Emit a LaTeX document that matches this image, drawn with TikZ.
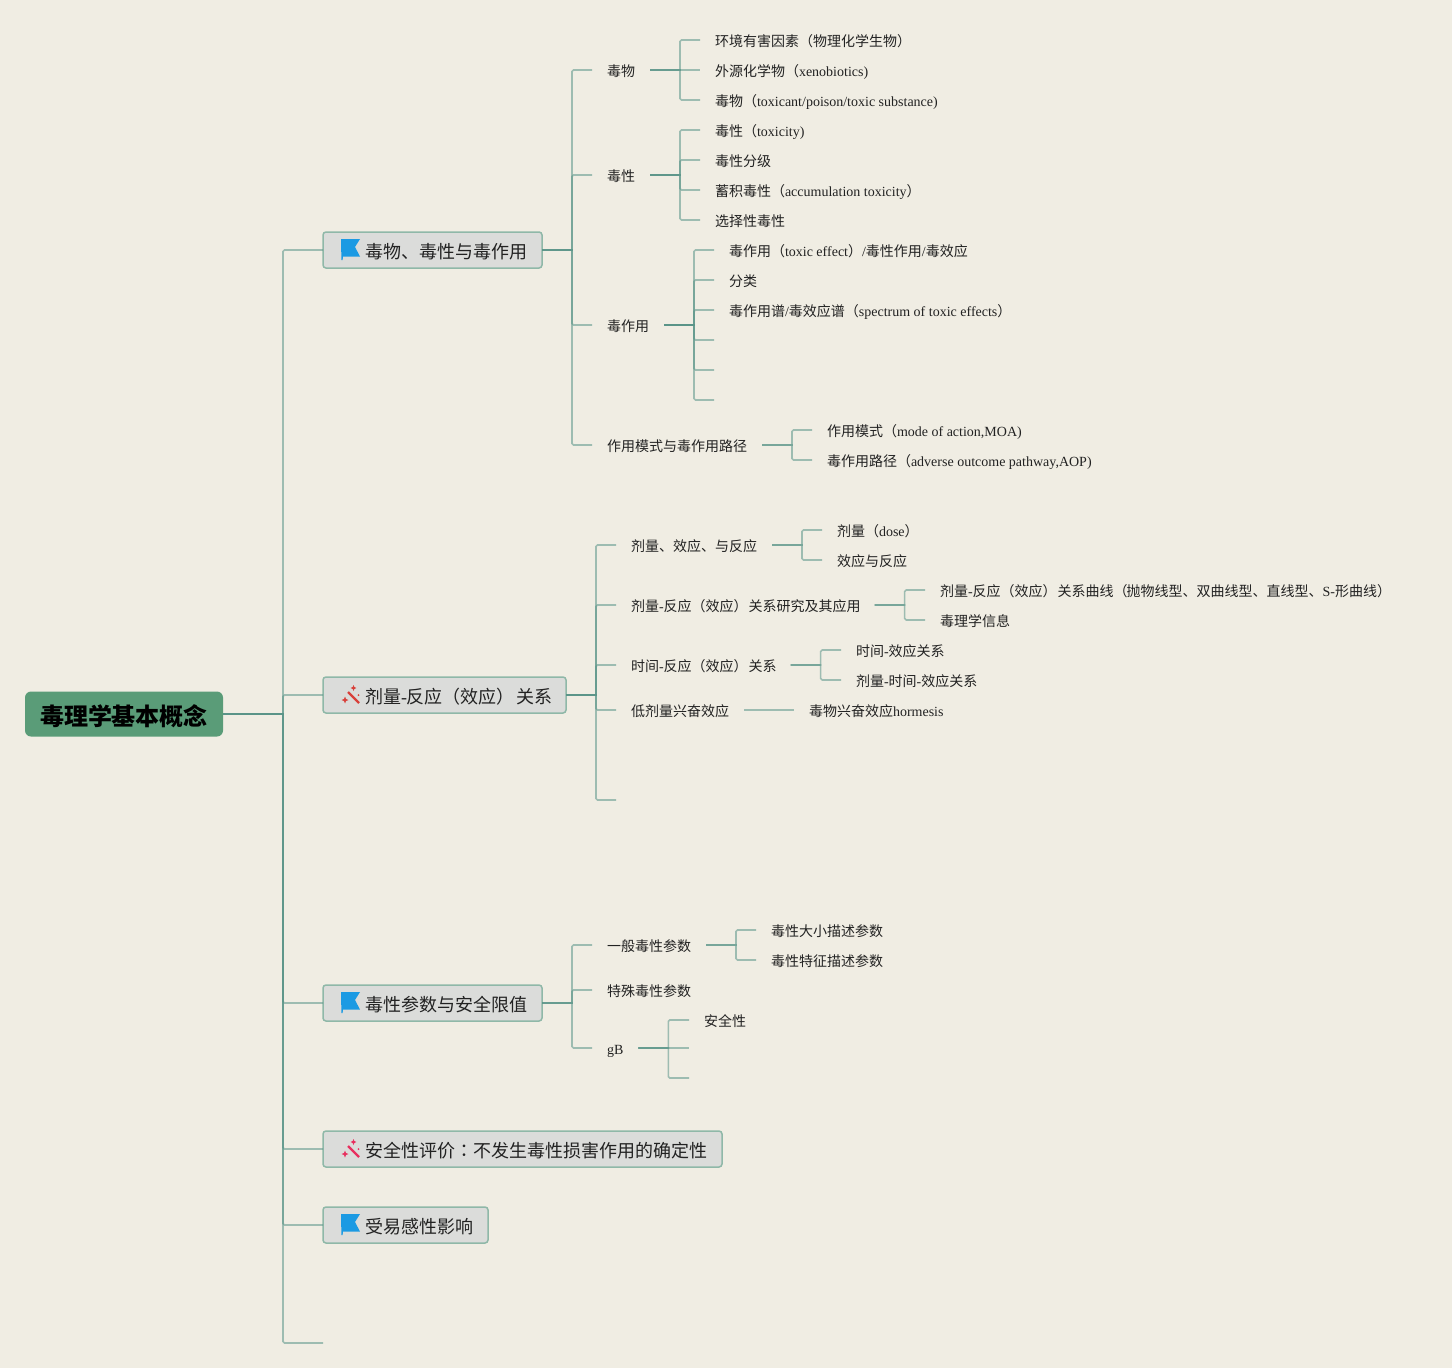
\documentclass[tikz,border=0pt]{standalone}
\usepackage{fontspec}
\setmainfont{Noto Sans CJK SC}
\newfontfamily\lat{Liberation Serif}
\newfontfamily\tcf{Noto Sans CJK TC}
\newcommand{\en}[1]{{\lat #1}}
\definecolor{bgc}{HTML}{F0EDE3}
\definecolor{linec}{HTML}{5A9488}
\definecolor{rootc}{HTML}{5A9C78}
\definecolor{boxc}{HTML}{DBDCDA}
\definecolor{boxl}{HTML}{8FB8A8}
\definecolor{flagc}{HTML}{1B9AE3}
\definecolor{wandc}{HTML}{D8403A}
\definecolor{wandp}{HTML}{E8305F}
\definecolor{txt}{HTML}{222222}
\tikzset{
  conn/.style={draw=linec,draw opacity=.55,line width=1.6pt},
  leaf/.style={anchor=west,inner xsep=15pt,inner ysep=0pt,outer sep=0pt,text height=15pt,text depth=2pt,font=\fontsize{14}{14}\selectfont,text=txt},
  topicbox/.style={anchor=west,draw=boxl,fill=boxc,line width=1.5pt,rounded corners=3pt,minimum height=36pt,inner ysep=0pt,inner xsep=0pt,outer sep=0pt,font=\fontsize{18}{18}\selectfont,text=txt,text height=19pt,text depth=3pt,align=left},
  rootbox/.style={anchor=west,fill=rootc,rounded corners=6pt,minimum height=45pt,inner ysep=0pt,inner xsep=15pt,outer sep=0pt,font=\fontsize{24}{24}\bfseries\selectfont,text=black,text height=24pt,text depth=2pt}
}
\newcommand{\lnk}[3][30]{\draw[conn] (#2.east) -- ++(#1,0) [rounded corners=1.5pt] |- (#3);}
\newcommand{\flagicon}[2]{%
  \fill[flagc] (#1+1,#2-11) -- (#1+20,#2-11) -- (#1+15,#2-3) -- (#1+20,#2+6.5) -- (#1+3,#2+6.5) -- (#1+2.6,#2+10) -- (#1+1.4,#2+10) -- cycle;}
\newcommand{\wandicon}[3]{%
  \draw[#3,line width=2.2pt] (#1+5,#2-3) -- (#1+16,#2+8);
  \fill[#3] (#1+2,#2+1.5) -- (#1+3,#2+4) -- (#1+5.5,#2+5) -- (#1+3,#2+6) -- (#1+2,#2+8.5) -- (#1+1,#2+6) -- (#1-1.5,#2+5) -- (#1+1,#2+4) -- cycle;
  \fill[#3] (#1+10.5,#2-10) -- (#1+11.3,#2-8) -- (#1+13.3,#2-7) -- (#1+11.3,#2-6) -- (#1+10.5,#2-4) -- (#1+9.7,#2-6) -- (#1+7.7,#2-7) -- (#1+9.7,#2-8) -- cycle;
  \fill[#3] (#1+15.5,#2) circle (1pt);}
\begin{document}
\begin{tikzpicture}[x=1pt,y=-1pt]
\useasboundingbox[fill=bgc] (0,0) rectangle (1452,1368);
% root
\node[rootbox,minimum width=198pt] (root) at (25,714) {毒理学基本概念};
% free ends
\coordinate (mfree) at (323,1343);
\coordinate (zfree1) at (714,340);
\coordinate (zfree2) at (714,370);
\coordinate (zfree3) at (714,400);
\coordinate (jfree) at (616,800);
\coordinate (gfree1) at (689,1048);
\coordinate (gfree2) at (689,1078);
% main topics
\node[topicbox,minimum width=219pt] (t1) at (323,250) {\hspace*{42pt}毒物、毒性与毒作用\hspace*{15pt}};
\node[topicbox,minimum width=243pt] (t2) at (323,695) {\hspace*{42pt}剂量\en{-}反应（效应）\kern2pt关系\hspace*{13pt}};
\node[topicbox,minimum width=219pt] (t3) at (323,1003) {\hspace*{42pt}毒性参数与安全限值\hspace*{15pt}};
\node[topicbox,minimum width=399pt] (t4) at (323,1149) {\hspace*{42pt}安全性评价{\tcf ：}不发生毒性损害作用的确定性\hspace*{15pt}};
\node[topicbox,minimum width=165pt] (t5) at (323,1225) {\hspace*{42pt}受易感性影响\hspace*{15pt}};
\flagicon{340}{250}
\wandicon{343}{695}{wandc}
\flagicon{340}{1003}
\wandicon{343}{1149}{wandp}
\flagicon{340}{1225}
% group 1
\node[leaf] (a1) at (592,70) {毒物};
\node[leaf] (a2) at (592,175) {毒性};
\node[leaf] (a3) at (592,325) {毒作用};
\node[leaf] (a4) at (592,445) {作用模式与毒作用路径};
\node[leaf] (a11) at (700,40) {环境有害因素（物理化学生物）};
\node[leaf] (a12) at (700,70) {外源化学物（\en{xenobiotics)}};
\node[leaf] (a13) at (700,100) {毒物（\en{toxicant/poison/toxic substance)}};
\node[leaf] (a21) at (700,130) {毒性（\en{toxicity)}};
\node[leaf] (a22) at (700,160) {毒性分级};
\node[leaf] (a23) at (700,190) {蓄积毒性（\en{accumulation toxicity}）};
\node[leaf] (a24) at (700,220) {选择性毒性};
\node[leaf] (a31) at (714,250) {毒作用（\en{toxic effect}）\en{/}毒性作用\en{/}毒效应};
\node[leaf] (a32) at (714,280) {分类};
\node[leaf] (a33) at (714,310) {毒作用谱\en{/}毒效应谱（\en{spectrum of toxic effects}）};
\node[leaf] (a41) at (812,430) {作用模式（\en{mode of action,MOA)}};
\node[leaf] (a42) at (812,460) {毒作用路径（\en{adverse outcome pathway,AOP)}};
% group 2
\node[leaf] (b1) at (616,545) {剂量、效应、与反应};
\node[leaf] (b2) at (616,605) {剂量\en{-}反应（效应）\kern1pt关系研究及其应用\kern-1pt};
\node[leaf] (b3) at (616,665) {时间\en{-}反应（效应）\kern1pt关系\kern-1pt};
\node[leaf] (b4) at (616,710) {低剂量兴奋效应};
\node[leaf] (b11) at (822,530) {剂量（\en{dose}）};
\node[leaf] (b12) at (822,560) {效应与反应};
\node[leaf] (b21) at (925,590) {剂量\en{-}反应（效应）\kern1pt关系曲线（\kern-1pt抛物线型、双曲线型、直线型、\en{S-}形曲线）};
\node[leaf] (b22) at (925,620) {毒理学信息};
\node[leaf] (b31) at (841,650) {时间\en{-}效应关系};
\node[leaf] (b32) at (841,680) {剂量\en{-}时间\en{-}效应关系};
\node[leaf] (b41) at (794,710) {毒物兴奋效应\en{hormesis}};
% group 3
\node[leaf] (c1) at (592,945) {一般毒性参数};
\node[leaf] (c2) at (592,990) {特殊毒性参数};
\node[leaf] (c3) at (592,1048) {\en{gB}};
\node[leaf] (c11) at (756,930) {毒性大小描述参数};
\node[leaf] (c12) at (756,960) {毒性特征描述参数};
\node[leaf] (c31) at (689,1020) {安全性};
% connectors
\foreach \c in {t1,t2,t3,t4,t5,mfree} {\lnk[60]{root}{\c}}
\foreach \c in {a1,a2,a3,a4} {\lnk{t1}{\c.west}}
\foreach \c in {a11,a13} {\lnk{a1}{\c.west}}
\draw[conn] (a1.east) -- (a12.west);
\foreach \c in {a21,a22,a23,a24} {\lnk{a2}{\c.west}}
\foreach \c in {a31,a32,a33} {\lnk{a3}{\c.west}}
\foreach \c in {zfree1,zfree2,zfree3} {\lnk{a3}{\c}}
\foreach \c in {a41,a42} {\lnk{a4}{\c.west}}
\foreach \c in {b1,b2,b3,b4} {\lnk{t2}{\c.west}}
\lnk{t2}{jfree}
\foreach \c in {b11,b12} {\lnk{b1}{\c.west}}
\foreach \c in {b21,b22} {\lnk{b2}{\c.west}}
\foreach \c in {b31,b32} {\lnk{b3}{\c.west}}
\draw[conn] (b4.east) -- (b41.west);
\foreach \c in {c1,c2,c3} {\lnk{t3}{\c.west}}
\foreach \c in {c11,c12} {\lnk{c1}{\c.west}}
\lnk{c3}{c31.west}
\draw[conn] (c3.east) -- (gfree1);
\lnk{c3}{gfree2}
\end{tikzpicture}
\end{document}
